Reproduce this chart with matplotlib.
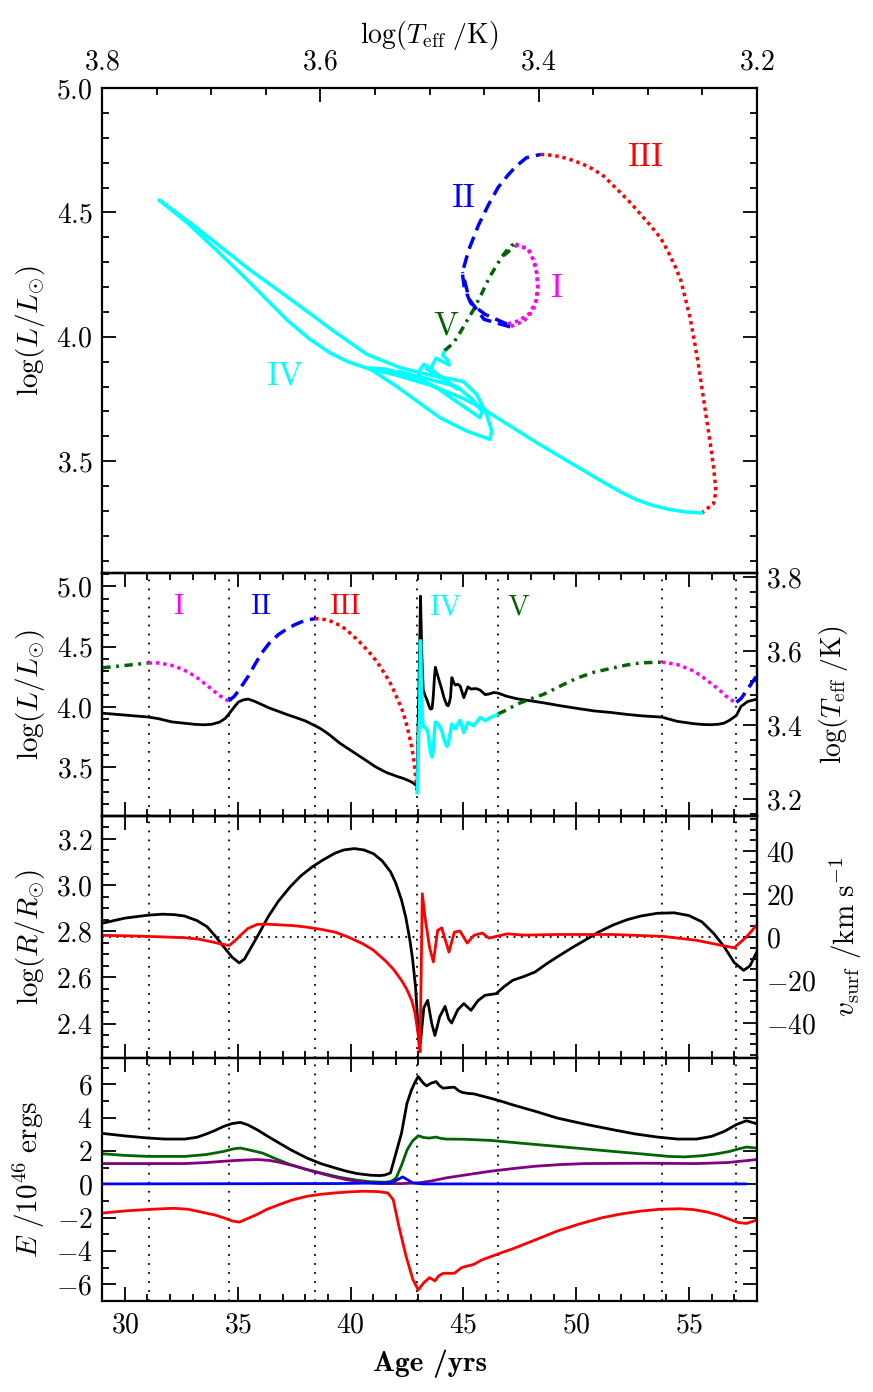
import numpy as np
import matplotlib
matplotlib.use('Agg')
import matplotlib.pyplot as plt
from matplotlib.ticker import MultipleLocator

plt.rcParams['font.family'] = 'cmr10'
plt.rcParams['mathtext.fontset'] = 'cm'
plt.rcParams['axes.formatter.use_mathtext'] = True
plt.rcParams['font.size'] = 20
plt.rcParams['axes.linewidth'] = 1.6

# --- luminosity / temperature history ---
age = [29.0, 30.0, 31.05,
       31.5, 32.08, 32.6, 33.11, 33.5, 33.85, 34.2, 34.45, 34.6,
       34.85, 35.03, 35.25, 35.47, 35.75, 36.07, 36.4, 36.8, 37.2, 37.54, 38.0, 38.43,
       38.65, 38.9, 39.1, 39.32, 39.55, 39.8, 40.0, 40.21, 40.43, 40.65, 40.87, 41.09,
       41.3, 41.5, 41.67, 41.83, 42.05, 42.28, 42.45, 42.57, 42.7, 42.8, 42.86, 42.9,
       42.93, 42.95,
       42.955, 42.96, 42.965, 42.97, 42.975, 42.98, 42.985, 42.99, 42.995, 43.0, 43.005,
       43.01, 43.02, 43.03, 43.04, 43.05, 43.055, 43.06, 43.065, 43.07, 43.075, 43.08,
       43.085, 43.09, 43.1,
       43.11, 43.12, 43.13, 43.14, 43.15, 43.16, 43.18, 43.2, 43.22,
       43.3, 43.38, 43.45, 43.5, 43.55, 43.61, 43.65, 43.68, 43.72, 43.76,
       43.83, 43.95, 44.05, 44.15, 44.27, 44.33, 44.38, 44.43, 44.49,
       44.57, 44.64, 44.75, 44.86, 45.02, 45.2, 45.34, 45.45, 45.6, 45.75, 45.97,
       46.15, 46.35, 46.55,
       46.9, 47.37, 48.0, 48.55, 49.3, 50.03, 50.8, 51.52, 52.2, 52.85, 53.8,
       54.47, 55.22, 55.6, 55.95, 56.3, 56.55, 56.8, 57.1,
       57.3, 57.6, 58.0]
log_L = [4.326, 4.345, 4.366,
         4.366, 4.346, 4.31, 4.257, 4.20, 4.148, 4.095, 4.065, 4.051,
         4.09, 4.134, 4.195, 4.257, 4.35, 4.45, 4.53, 4.601, 4.65, 4.684, 4.72, 4.733,
         4.731, 4.725, 4.714, 4.697, 4.674, 4.645, 4.61, 4.574, 4.535, 4.49, 4.445, 4.395,
         4.34, 4.28, 4.23, 4.175, 4.08, 3.982, 3.88, 3.79, 3.68, 3.57, 3.47, 3.38,
         3.33, 3.292,
         3.296, 3.306, 3.322, 3.345, 3.377, 3.414, 3.466, 3.518, 3.57, 3.625, 3.68,
         3.71, 3.752, 3.806, 3.845, 3.872, 3.90, 3.935, 3.99, 4.065, 4.15, 4.25,
         4.347, 4.45, 4.55,
         4.46, 4.374, 4.27, 4.172, 4.095, 4.024, 3.93, 3.876, 3.843,
         3.83, 3.82, 3.769, 3.688, 3.621, 3.588, 3.621, 3.675, 3.80, 3.875,
         3.87, 3.84, 3.80, 3.73, 3.675, 3.70, 3.75, 3.80, 3.86,
         3.84, 3.82, 3.86, 3.89, 3.79, 3.873, 3.86, 3.845, 3.88, 3.914, 3.887,
         3.91, 3.925, 3.945,
         3.975, 4.024, 4.07, 4.106, 4.175, 4.24, 4.29, 4.32, 4.348, 4.367, 4.373,
         4.354, 4.299, 4.25, 4.20, 4.15, 4.106, 4.065, 4.04,
         4.07, 4.15, 4.26]
log_Teff = [3.432, 3.427, 3.4215,
            3.417, 3.4085, 3.405, 3.4018, 3.4006, 3.402, 3.408, 3.418, 3.429,
            3.449, 3.462, 3.468, 3.470, 3.464, 3.455, 3.446, 3.437, 3.428, 3.421, 3.411, 3.398,
            3.391, 3.381, 3.372, 3.361, 3.350, 3.340, 3.332, 3.3237, 3.315, 3.306, 3.297, 3.2878,
            3.281, 3.2745, 3.2698, 3.2666, 3.2613, 3.2571, 3.2532, 3.2501, 3.2463, 3.2425, 3.2394, 3.2374,
            3.2395, 3.2505,
            3.265, 3.28, 3.295, 3.31, 3.325, 3.34, 3.36, 3.38, 3.40, 3.42, 3.44,
            3.4507, 3.469, 3.4996, 3.53, 3.556, 3.575, 3.591, 3.6096, 3.63, 3.6493, 3.672,
            3.6951, 3.72, 3.748,
            3.72, 3.6951, 3.665, 3.634, 3.61, 3.5882, 3.5576, 3.5271, 3.4965,
            3.480, 3.469, 3.4568, 3.4476, 3.443, 3.4445, 3.4659, 3.4904, 3.53, 3.556,
            3.54, 3.515, 3.495, 3.472, 3.4537, 3.452, 3.461, 3.475, 3.528,
            3.515, 3.508, 3.51, 3.505, 3.474, 3.503, 3.497, 3.498, 3.498, 3.494, 3.482,
            3.484, 3.488, 3.486,
            3.478, 3.471, 3.465, 3.460, 3.452, 3.445, 3.438, 3.434, 3.429, 3.425, 3.4213,
            3.41, 3.4035, 3.4015, 3.4008, 3.402, 3.405, 3.413, 3.426,
            3.45, 3.4635, 3.4698]

phase_edges = [29.0, 31.05, 34.6, 38.43, 42.95, 46.55, 53.8, 57.1, 58.0]
phase_names = ['V', 'I', 'II', 'III', 'IV', 'V', 'I', 'II']

# --- radius and surface velocity ---
age_r = [29.0, 30.0, 31.05, 31.67, 32.2, 32.65, 33.2, 33.64, 34.0, 34.38, 34.75, 35.07,
         35.3, 35.61, 36.0, 36.35, 36.8, 37.33, 37.8, 38.32, 38.8, 39.31, 39.7, 40.17,
         40.6, 41.03, 41.4, 41.77, 42.0, 42.26, 42.45, 42.63, 42.75, 42.88, 42.97, 43.05,
         43.1, 43.25, 43.42, 43.6, 43.74, 43.95, 44.19, 44.35, 44.48, 44.75, 45.02, 45.34,
         45.65, 45.96, 46.45, 46.8, 47.19, 47.7, 48.18, 48.7, 49.16, 49.8, 50.4, 51.0,
         51.63, 52.25, 52.86, 53.6, 54.34, 55.0, 55.57, 56.1, 56.56, 57.0, 57.42, 57.7, 58.0]
log_R = [2.835, 2.857, 2.870, 2.874, 2.872, 2.866, 2.846, 2.820, 2.780, 2.733, 2.688, 2.663,
         2.680, 2.733, 2.800, 2.863, 2.930, 2.993, 3.040, 3.080, 3.110, 3.138, 3.152, 3.158,
         3.152, 3.135, 3.105, 3.058, 3.010, 2.935, 2.860, 2.762, 2.680, 2.559, 2.420, 2.299,
         2.320, 2.470, 2.501, 2.400, 2.349, 2.430, 2.475, 2.420, 2.403, 2.460, 2.487, 2.458,
         2.500, 2.523, 2.530, 2.560, 2.588, 2.605, 2.624, 2.660, 2.689, 2.728, 2.762, 2.797,
         2.827, 2.850, 2.866, 2.878, 2.880, 2.868, 2.841, 2.790, 2.733, 2.665, 2.631, 2.650, 2.710]
age_v = [29.0, 30.0, 31.05, 32.65, 33.3, 33.88, 34.3, 34.62, 34.85, 35.12, 35.45, 35.86,
         36.3, 36.84, 37.5, 38.07, 38.7, 39.31, 39.9, 40.54, 41.0, 41.53, 41.9, 42.26,
         42.5, 42.71, 42.85, 42.95, 43.03, 43.08, 43.18, 43.3, 43.5, 43.67, 43.86, 44.04,
         44.36, 44.6, 44.85, 45.17, 45.47, 45.84, 46.13, 46.45, 46.95, 47.68, 49.16, 51.63,
         53.85, 55.33, 56.31, 57.0, 57.54, 58.0]
v_surf = [0.8, 0.6, 0.3, -0.3, -1.0, -2.3, -3.3, -3.9, -2.0, 0.8, 4.0, 5.9,
          6.0, 5.7, 5.3, 4.6, 3.6, 2.3, 0.0, -3.1, -6.0, -10.9, -15.0, -20.2,
          -24.5, -29.5, -35.0, -41.9, -48.0, -53.5, 20.2, 9.3, -4.7, -11.6, 3.1, 4.3,
          -7.0, 2.3, 2.8, -2.8, 0.8, 1.9, -0.5, 0.3, 1.5, 0.9, 1.2, 1.2,
          0.3, -1.5, -3.6, -5.0, 0.0, 5.6]

# --- energies ---
age_k = [29.0, 30.0, 31.05, 31.8, 32.65, 33.2, 33.64, 34.0, 34.38, 34.75, 35.12, 35.45,
         35.86, 36.3, 36.84, 37.4, 38.07, 38.7, 39.31, 39.8, 40.29, 40.9, 41.3, 41.52,
         41.77, 42.02, 42.26, 42.5, 42.7, 42.85, 43.0, 43.2, 43.37, 43.55, 43.79, 43.95,
         44.11, 44.35, 44.6, 44.8, 44.97, 45.2, 45.47, 45.8, 46.2, 46.7, 47.19, 48.2,
         49.16, 50.4, 51.63, 52.6, 53.6, 54.5, 55.33, 56.0, 56.56, 57.1, 57.54, 58.0]
E_black = [3.05, 2.90, 2.77, 2.71, 2.71, 2.82, 3.03, 3.23, 3.47, 3.64, 3.71, 3.56,
           3.27, 2.90, 2.47, 2.03, 1.57, 1.23, 0.98, 0.79, 0.64, 0.54, 0.52, 0.55,
           0.68, 1.90, 3.07, 4.85, 5.65, 6.10, 6.46, 6.10, 5.90, 6.05, 6.16, 5.90,
           5.76, 5.80, 5.82, 5.60, 5.50, 5.45, 5.42, 5.30, 5.16, 4.97, 4.76, 4.37,
           3.97, 3.60, 3.27, 3.02, 2.83, 2.71, 2.71, 2.87, 3.17, 3.58, 3.81, 3.63]
age_u = [29.0, 30.0, 31.05, 32.16, 32.8, 33.39, 34.0, 34.38, 34.75, 35.07, 35.45, 35.86,
         36.3, 36.84, 37.4, 38.07, 38.7, 39.31, 39.9, 40.54, 41.2, 41.65, 41.89, 42.14,
         42.46, 42.76, 43.0, 43.25, 43.5, 43.74, 43.9, 44.11, 44.6, 44.92, 45.47, 45.8,
         46.2, 46.7, 47.19, 48.2, 49.16, 50.1, 51.14, 52.0, 52.86, 53.7, 54.58, 55.2,
         55.82, 56.3, 56.81, 57.2, 57.54, 58.0]
E_red = [-1.73, -1.60, -1.51, -1.44, -1.50, -1.67, -1.85, -2.01, -2.20, -2.27, -2.05, -1.81,
         -1.50, -1.22, -0.95, -0.72, -0.60, -0.52, -0.46, -0.42, -0.44, -0.52, -0.92, -2.51,
         -4.31, -5.70, -6.34, -5.90, -5.60, -5.80, -5.50, -5.34, -5.34, -5.00, -4.80, -4.55,
         -4.35, -4.10, -3.87, -3.33, -2.81, -2.40, -2.01, -1.78, -1.61, -1.50, -1.47, -1.52,
         -1.67, -1.85, -2.11, -2.30, -2.35, -2.15]
age_g = [29.0, 30.0, 31.05, 32.65, 33.6, 34.38, 34.8, 35.12, 35.6, 36.1, 36.7, 37.33,
         38.0, 38.81, 39.5, 40.29, 40.9, 41.52, 41.8, 42.02, 42.25, 42.51, 42.75, 43.0,
         43.25, 43.5, 43.79, 44.0, 44.23, 45.0, 46.2, 47.5, 49.16, 50.4, 51.63, 52.9,
         54.09, 54.8, 55.57, 56.2, 56.81, 57.2, 57.54, 58.0]
E_green = [1.83, 1.73, 1.67, 1.67, 1.78, 1.97, 2.12, 2.17, 2.03, 1.87, 1.52, 1.18,
           0.90, 0.64, 0.42, 0.24, 0.15, 0.12, 0.17, 0.38, 1.10, 2.07, 2.60, 2.91,
           2.80, 2.77, 2.83, 2.75, 2.71, 2.70, 2.63, 2.47, 2.27, 2.12, 1.97, 1.82,
           1.67, 1.64, 1.71, 1.82, 1.97, 2.12, 2.23, 2.17]
age_p = [29.0, 32.65, 33.6, 34.38, 35.1, 35.86, 36.4, 36.84, 37.6, 38.32, 39.1, 39.8,
         40.5, 41.28, 42.26, 43.0, 43.6, 44.23, 45.2, 46.2, 47.2, 48.18, 49.3, 50.4,
         52.86, 55.33, 56.7, 58.0]
E_purple = [1.24, 1.24, 1.30, 1.38, 1.44, 1.48, 1.43, 1.32, 1.07, 0.78, 0.50, 0.28,
            0.13, 0.04, 0.04, 0.08, 0.20, 0.38, 0.58, 0.78, 0.94, 1.08, 1.18, 1.24,
            1.26, 1.24, 1.30, 1.48]
age_b = [29.0, 39.31, 41.77, 42.05, 42.31, 42.55, 42.76, 43.2, 57.5]
E_blue = [0.02, 0.04, 0.08, 0.25, 0.44, 0.25, 0.08, 0.02, 0.02]

phase_dividers = [31.05, 34.6, 38.43, 42.95, 46.55, 53.8, 57.1]

phase_style = {
    'I': ('magenta', (0, (1, 1.1))),
    'II': ('blue', (0, (3.7, 2.0))),
    'III': ('red', (0, (1, 1.1))),
    'IV': ('cyan', '-'),
    'V': ('#006400', (0, (2.4, 1.6, 0.8, 1.6))),
}

age_a = np.array(age)
L_a = np.array(log_L)
T_a = np.array(log_Teff)

fig = plt.figure(figsize=(8.73, 13.92), dpi=100)
gs = fig.add_gridspec(4, 1, height_ratios=[2, 1, 1, 1], hspace=0,
                      left=0.1172, right=0.8668, top=0.9368, bottom=0.0654)
ax0 = fig.add_subplot(gs[0])
ax1 = fig.add_subplot(gs[1])
ax2 = fig.add_subplot(gs[2], sharex=ax1)
ax3 = fig.add_subplot(gs[3], sharex=ax1)
ax1r = ax1.twinx()
ax2r = ax2.twinx()
ax1.set_zorder(ax1r.get_zorder() + 1)
ax1.patch.set_visible(False)

def tick_style(ax):
    ax.tick_params(which='both', direction='in', width=1.3, labelsize=20)
    ax.tick_params(which='major', length=10)
    ax.tick_params(which='minor', length=5)
    ax.tick_params(axis='y', pad=7)

# top panel: HR diagram
for i, name in enumerate(phase_names):
    m = (age_a >= phase_edges[i]) & (age_a <= phase_edges[i + 1])
    col, ls = phase_style[name]
    ax0.plot(T_a[m], L_a[m], color=col, ls=ls, lw=2.5)
    ax1.plot(age_a[m], L_a[m], color=col, ls=ls, lw=2.5)

ax0.set_xlim(3.8, 3.2)
ax0.set_ylim(3.05, 5.0)
ax0.xaxis.tick_top()
ax0.xaxis.set_label_position('top')
ax0.xaxis.set_major_locator(MultipleLocator(0.2))
ax0.xaxis.set_minor_locator(MultipleLocator(0.05))
ax0.yaxis.set_major_locator(MultipleLocator(0.5))
ax0.yaxis.set_minor_locator(MultipleLocator(0.1))
tick_style(ax0)
ax0.tick_params(axis='x', which='both', top=True, bottom=False, pad=9)
ax0.tick_params(axis='y', which='both', left=True, right=True)
ax0.set_xlabel(r'$\log(T_{\rm eff}\ /{\rm K})$', fontsize=20)
ax0.xaxis.set_label_coords(0.5, 1.093)
ax0.set_ylabel(r'$\log(L/L_{\odot})$', fontsize=21)

hr_labels = [('III', 3.302, 4.72), ('II', 3.469, 4.556), ('I', 3.384, 4.194),
             ('V', 3.485, 4.044), ('IV', 3.633, 3.843)]
for name, tx, ly in hr_labels:
    ax0.text(tx, ly, name, color=phase_style[name][0], fontsize=24,
             ha='center', va='center')

# second panel: L and Teff against age
ax1r.plot(age, log_Teff, color='black', lw=2)
ts_labels = [('I', 32.36), ('II', 36.0), ('III', 39.76), ('IV', 44.2), ('V', 47.43)]
for name, xa in ts_labels:
    ax1.text(xa, 4.83, name, color=phase_style[name][0], fontsize=21,
             ha='center', va='center')
ax1.set_ylim(3.1, 5.11)
ax1r.set_ylim(3.155, 3.81)
ax1.yaxis.set_major_locator(MultipleLocator(0.5))
ax1.yaxis.set_minor_locator(MultipleLocator(0.1))
ax1r.yaxis.set_major_locator(MultipleLocator(0.2))
ax1r.yaxis.set_minor_locator(MultipleLocator(0.04))
ax1.set_ylabel(r'$\log(L/L_{\odot})$', fontsize=21)
ax1r.set_ylabel(r'$\log(T_{\rm eff}\ /{\rm K})$', fontsize=20)

# third panel: radius and velocity
ax2.plot(age_r, log_R, color='black', lw=2)
ax2r.axhline(0, color='black', ls=(0, (1, 3)), lw=1.3)
ax2r.plot(age_v, v_surf, color='red', lw=2)
ax2.set_ylim(2.25, 3.30)
ax2r.set_ylim(-56.5, 56.5)
ax2.yaxis.set_major_locator(MultipleLocator(0.2))
ax2.yaxis.set_minor_locator(MultipleLocator(0.05))
ax2r.yaxis.set_major_locator(MultipleLocator(20))
ax2r.yaxis.set_minor_locator(MultipleLocator(5))
ax2.set_ylabel(r'$\log(R/R_{\odot})$', fontsize=21)
ax2r.set_ylabel(r'$v_{\rm surf}\ /{\rm km\ s^{-1}}$', fontsize=21)

# bottom panel: energies
ax3.plot(age_k, E_black, color='black', lw=2)
ax3.plot(age_g, E_green, color='#006400', lw=2)
ax3.plot(age_p, E_purple, color='purple', lw=2)
ax3.plot(age_b, E_blue, color='blue', lw=2)
ax3.plot(age_u, E_red, color='red', lw=2)
ax3.set_ylim(-7.0, 7.55)
ax3.yaxis.set_major_locator(MultipleLocator(2))
ax3.yaxis.set_minor_locator(MultipleLocator(1))
ax3.set_ylabel(r'$E\ /10^{46}\ {\rm ergs}$', fontsize=21)
ax3.set_xlabel('Age /yrs', fontsize=21, family='cmb10')
ax3.xaxis.set_label_coords(0.5, -0.2)

for ax in (ax1, ax2, ax3):
    for xv in phase_dividers:
        ax.axvline(xv, color='black', ls=(0, (1, 4)), lw=1.3, zorder=0)
    ax.set_xlim(29.0, 58.0)
    ax.xaxis.set_major_locator(MultipleLocator(5))
    ax.xaxis.set_minor_locator(MultipleLocator(1))
    tick_style(ax)
    ax.tick_params(axis='x', which='both', top=True, bottom=True, pad=8)
for ax in (ax0, ax1, ax2, ax3):
    ax.yaxis.set_label_coords(-0.085, 0.5)
for ax in (ax1, ax2):
    ax.tick_params(axis='x', labelbottom=False)
for ax in (ax1r, ax2r):
    tick_style(ax)
ax1r.yaxis.set_label_coords(1.092, 0.5)
ax2r.yaxis.set_label_coords(1.109, 0.5)
ax3.tick_params(axis='y', which='both', right=True)

fig.savefig('out.png', dpi=100)
